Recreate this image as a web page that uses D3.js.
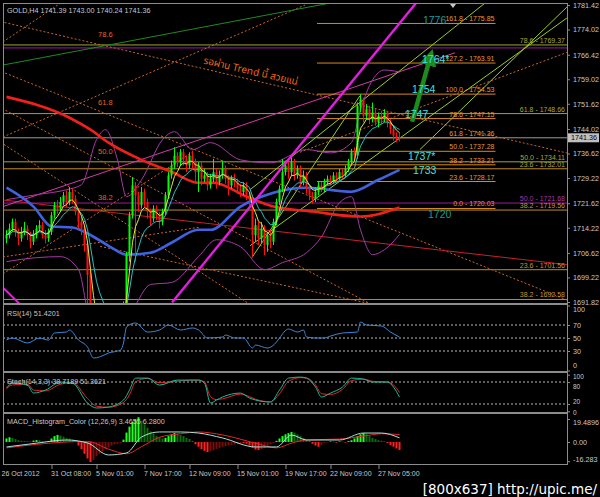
<!DOCTYPE html>
<html><head><meta charset="utf-8">
<script src="https://cdn.jsdelivr.net/npm/d3@7"></script>
<style>
html,body{margin:0;padding:0;background:#000;}
svg{display:block;}
text{font-family:"Liberation Sans",Arial,sans-serif;}
</style></head><body>
<svg id="c" width="600" height="497"></svg>
<script>
// ---------------- DATA ----------------
const symbolHeader = "GOLD,H4  1741.39 1743.00 1740.24 1741.36";
const priceTicks = [1781.42,1774.02,1766.42,1759.02,1751.62,1744.02,1736.62,1729.22,1721.62,1714.22,1706.62,1699.22,1691.82];
const lastPrice = 1741.36;
const timeLabels = ["26 Oct 2012","31 Oct 08:00","5 Nov 01:00","7 Nov 17:00","12 Nov 09:00","15 Nov 01:00","19 Nov 17:00","22 Nov 09:00","27 Nov 05:00"];
const timeBars = [-1.5,15,30,46,61,77,93,108,124];

const firstOpen = 1711;
const closes = [1712,1714,1716,1713,1711,1713,1714,1712,1710,1712,
 1714,1715,1712,1711,1713,1718,1721,1720,1722,1724,
 1722,1725,1723,1719,1716,1714,1709,1700,1685,1678,
 1676,1680,1682,1679,1681,1684,1683,1686,1685,1690,
 1706,1718,1727,1724,1721,1725,1722,1719,1717,1720,
 1718,1716,1719,1724,1730,1733,1736,1734,1737,1735,
 1733,1736,1734,1731,1733,1729,1730,1727,1729,1731,
 1728,1730,1732,1729,1727,1729,1728,1726,1725,1727,
 1724,1723,1712,1715,1711,1714,1709,1712,1710,1716,
 1722,1726,1731,1733,1731,1734,1730,1732,1728,1730,
 1726,1724,1723,1725,1727,1726,1728,1729,1728,1730,
 1729,1731,1730,1732,1734,1737,1736,1751,1753,1748,
 1750,1747,1749,1746,1748,1747,1749,1746,1744,1742,
 1741.39,1741.36];
const highs = [1713.5,1715.5,1717,1717,1714,1714.5,1716,1715,1713,1713.5,
 1715,1716.5,1716,1713.5,1714,1719,1722,1722.5,1723.5,1725,
 1725.5,1726.5,1726,1724,1720,1717.5,1715,1710,1701,1687,
 1680,1682,1684,1683,1683,1686,1686,1688,1687,1692,
 1707,1719,1729.5,1728,1725,1726.5,1726,1723,1720,1721,
 1721,1719,1720,1725,1731,1734.5,1738.5,1737,1738,1738,
 1736,1737,1737.5,1735,1734,1734,1732,1731,1730.5,1735,
 1732,1731.5,1734.5,1733,1730,1730,1730.5,1729,1727.5,1728,
 1728,1725,1724,1717,1716,1716,1715,1713,1713.5,1717,
 1723,1727,1735,1734.5,1735,1735.5,1735,1733,1733,1731.5,
 1731,1727,1725,1726.5,1728,1728,1729,1730,1730,1731,
 1731,1732,1732,1733,1735,1738,1738.5,1752,1754.5,1753.5,
 1751.5,1751,1752,1750,1749,1749.5,1750,1749.5,1747,1745,
 1743,1743];
const lows = [1709.5,1711,1713,1711.5,1709,1710,1712,1710.5,1708,1709,
 1711,1713,1711,1709.5,1710,1712,1717,1718.5,1719,1721,
 1720.5,1721,1721.5,1718,1714,1712,1707,1690,1680,1675,
 1674,1675,1679,1677,1678,1680,1681,1682,1683,1684,
 1688,1704,1717,1704,1719,1720,1720.5,1717,1715,1716,
 1716.5,1714,1715,1718,1723,1729,1732,1732.5,1733,1733,
 1731,1732,1732,1728,1725,1727,1728,1725.5,1726,1728,
 1726,1727,1729,1727.5,1724,1726,1726.5,1724.5,1723.5,1724,
 1722.5,1721,1705.5,1710,1709,1709.5,1706,1707,1708,1709,
 1715,1721,1725,1730,1729,1730,1728.5,1729,1726.5,1727,
 1724.5,1722.5,1721.5,1722,1724,1725,1725,1727,1727,1727.5,
 1728,1728.5,1729,1729.5,1731,1733,1734.5,1735,1749,1746,
 1747,1745.5,1746,1745,1744.5,1745.5,1746,1744.5,1742.5,1740.5,
 1740,1740.24];

// moving averages (bar index, price)
const blueMABars = [0,9,15,22,29,35,40,48,55,64,68,78,89,100,115,124,131];
const blueMAVals = [1726.3,1720.6,1714.6,1714.3,1711.5,1708.2,1706.1,1706.7,1709.7,1713.6,1713.6,1720.6,1724.8,1726.3,1725.1,1728.7,1731.7];
const redMABars = [0,21,28,34,45,55,64,69,80,89,102,118,131];
const redMAVals = [1753.7,1747.4,1743.8,1739.9,1734.7,1731.1,1727.8,1727.8,1723.6,1720.6,1719.1,1717.6,1720.3];
const bbUpBars = [0,10,20,25,30,33,37,40,45,52,56,62,68,78,88,100,108,115,118,122,126,131];
const bbUpVals = [1722.7,1724.2,1725.7,1727.2,1740.8,1743.8,1734.7,1723.6,1728.7,1740.8,1743.2,1737.8,1739.9,1734.7,1733.8,1737.8,1736.8,1739.9,1749.8,1758.8,1761.8,1761.2];
const bbLoBars = [0,10,18,24,28,36,42,48,55,64,70,78,86,92,100,105,111,115,118,122,126,131];
const bbLoVals = [1704,1705.2,1705.5,1701.6,1686.5,1683.5,1689.6,1697.1,1697.7,1705.5,1710.6,1708.5,1701.6,1703.7,1706.7,1711.5,1721.8,1723.6,1713.6,1706.1,1707.6,1712.2];

// Fibonacci set A (right block)
const fibALabels = ["161.8","127.2","100.0","78.6","61.8","50.0","38.2","23.6","0.0"];
const fibAPrices = [1775.85,1763.91,1754.53,1747.15,1741.36,1737.28,1733.21,1728.17,1720.03];
const fibAFrom = 103.5, fibATo = 163;
// Fibonacci set B (full width)
const fibBLabels = ["78.6","61.8","50.0","23.6","50.0","38.2","23.6","38.2"];
const fibBPrices = [1769.37,1748.66,1734.11,1732.01,1721.68,1719.56,1701.56,1692.58];
const purpleLevel = 1768.47;
// fan labels on the left
const fanLabels = ["78.6","61.8","50.0","38.2"];
const fanLabelPrices = [1771.8,1751.3,1736.5,1722.6];
const fanLabelBar = 30.5;

// trend lines: [[bar, price],[bar, price]]
const fanOrigin = [-98.07,1796.6];
const fanEnds = [[186.8,1736.77],[186.8,1692.42],[186.8,1659.8],[186.8,1628.9]];
const dashedLines = [
  [[-1.2,1770.26],[19.5,1782.9]],
  [[-1.2,1741.6],[99.5,1781.4]],
  [[-1.2,1705.4],[64.5,1714.4]],
  [[-1.2,1700.3],[62,1737]],
  [[31.2,1708.6],[124.5,1690.7]],
  [[97.8,1737],[186.8,1767.1]]
];
const redThin = [[-2.2,1722.7],[186.8,1703.1]];
const greenThin = [[-1.2,1763.3],[107.8,1782]];
const pinkThin = [[-1.2,1720.6],[149.5,1767]];
const magentaThick = [[55.2,1691.7],[136.5,1782]];
const magentaShort = [[-1.2,1696.2],[5.2,1690.5]];
const channelLines = [
  [[81.8,1705.2],[117.8,1754]],
  [[81.2,1725.7],[159.5,1782]],
  [[81.2,1708.8],[186.8,1777.5]],
  [[137.8,1737.8],[186.8,1780.8]]
];
// annotations
const noteTexts = ["1776","1764*","1754","1747","1737*","1733","1720"];
const noteBars = [138.8,138.5,135.2,132.8,133.8,135.5,140.5];
const notePrices = [1775.6,1763.9,1754.9,1747.4,1734.7,1730.5,1717.3];
const thaiNote = "รอผ่าน Trend นี้ สวยแน่";
const thaiAnchor = [65.5,1763.8];
const arrowFrom = [135.2,1746.2], arrowTo = [140.8,1764.2];

// RSI(14)
const rsiLabel = "RSI(14) 51.4201";
const rsiBars = [0,2,7,11,14,16,20,21,24,27,29,31,34,38,39,40,43,47,51,54,58,62,64,67,72,73,76,79,82,83,87,90,91,94,97,99,100,103,106,108,112,117,118,120,125,128,131];
const rsiVals = [46.9,50,42.3,50,46.9,57.7,59.2,62.3,46.9,36.2,19.2,20.8,26.9,31.5,42.3,66.9,73.1,59.2,62.3,70,62.3,65.4,62.3,50,51.5,54.6,50,50,34.6,39.2,34.6,43.8,50,63.8,59.2,62.3,51.5,50,50,53,57.7,59.2,74.6,70,68.5,59.2,51.42];
const rsiTicks = [100,70,50,30,0];
// Stochastic(14,3,3)
const stochLabel = "Stoch(14,3,3) 38.7189 51.3621";
const stochBars = [0,2,7,9,13,18,22,27,30,34,39,41,43,47,51,57,61,64,66,68,70,72,78,81,83,88,91,94,98,100,103,105,108,112,115,119,122,127,129,131];
const stochK = [63.5,77,71.7,49.9,58,79.8,77,22.6,9,11.7,30.8,58,90.7,90.7,71.7,85.3,85.3,85.3,77,22.6,30.8,39,49.9,36.2,30.8,25.3,58,90.7,93.5,90.7,66.2,39,49.9,66.2,90.7,88,79.8,79.8,66.2,38.72];
const stochD = [62,72,74,58,56,74,78,35,14,11,24,45,80,90,78,82,85,85,80,40,32,34,47,40,33,26,48,82,92,91,72,48,46,60,84,88,82,80,72,51.36];
const stochTicks = [100,80,20,0];
// MACD
const macdLabel = "MACD_Histogram_Color (12,26,9)  3.4655 6.2800";
const macdHist = [3,4,3.5,2.5,1.5,1,0.8,0.6,0.5,1.2,
 1.6,1.5,0.8,0.5,0.6,3,5,6,5.5,4.5,
 3.5,3,2,0.5,-3,-6,-10,-14,-17,-15,
 -12,-10,-8,-6,-4.5,-3,-2,-1.5,-1,2,
 8,13,17,19,21,18,15,12,9,7,
 5,4,3,3.5,5,6.5,7.6,7,6,5,
 3.5,2.5,1,-2,-4,-6,-7.5,-8.5,-8,-7,
 -6,-5,-4,-3.5,-3,-2.5,-2,-1.5,-1,-1,
 -1.5,-3,-5,-6.5,-6.8,-6,-5,-3.5,-2,-1,
 1,3,5,6.5,7.5,8.5,8,6.5,5,3.5,
 2,1,-1.5,-3,-4,-2.5,-1,-0.5,0.5,0.3,
 -0.3,0.5,0.3,-0.4,0.8,1.5,3,5,6.5,7.6,
 7,5,3.5,2.5,1.5,1,0.5,-1,-2.5,-4,
 -5.5,-6.8];
const macdBars = [0,10,20,27,34,40,45,51,58,64,72,83,90,95,100,111,119,125,131];
const macdMain = [-4.2,-1,1.7,-0.8,-11,-9.3,4.2,8.5,8.5,7.6,3.4,-4.2,-4.2,5.9,1.7,1.7,7.6,7.6,3.47];
const macdSignal = [-5,-2,0,0.5,-6,-10,-4,4,7,8.5,6,-1,-5,-1,1.7,2.5,5,7,6.28];
const macdTicks = [19.4896,0,-16.283];
const watermark = "[800x637] http://upic.me/";

// ---------------- CHART ----------------
const svg = d3.select("#c");
svg.append("rect").attr("width",600).attr("height",497).attr("fill","#000");
const L = 3, R = 567;
const x = d3.scaleLinear().domain([0,131]).range([6.5,399.5]);
const yP = d3.scaleLinear().domain([1691.82,1781.42]).range([302,5]);
const yR = d3.scaleLinear().domain([0,100]).range([370.5,305.5]);
const yS = d3.scaleLinear().domain([0,100]).range([411.3,374.7]);
const yM = d3.scaleLinear().domain([-16.283,19.4896]).range([461.2,419]);

const defs = svg.append("defs");
function clip(id,y0,h){defs.append("clipPath").attr("id",id).append("rect").attr("x",L+1).attr("y",y0).attr("width",R-L-1).attr("height",h);}
clip("cm",4,299); clip("cr",305,66); clip("cs",373,39); clip("cmd",414,51);
defs.append("marker").attr("id","ah").attr("viewBox","0 0 10 10").attr("refX",2).attr("refY",5)
  .attr("markerWidth",3.8).attr("markerHeight",3.8).attr("orient","auto")
  .append("path").attr("d","M0,0L10,5L0,10Z").attr("fill","#1c8c1c");

const gm = svg.append("g").attr("clip-path","url(#cm)");
const segP = (g,pts,color,w,dash)=>g.append("line")
  .attr("x1",x(pts[0][0])).attr("y1",yP(pts[0][1])).attr("x2",x(pts[1][0])).attr("y2",yP(pts[1][1]))
  .attr("stroke",color).attr("stroke-width",w).attr("stroke-dasharray",dash||null);

// full-width fib levels (set B)
const fibBColors = ["#a3a032","#a3a032","#a3a032","#c08a22","#9a1c9a","#c08a22","#b8901e","#b8901e"];
gm.append("line").attr("x1",L).attr("x2",R).attr("y1",yP(purpleLevel)).attr("y2",yP(purpleLevel)).attr("stroke","#9a1c9a").attr("stroke-width",1);
fibBPrices.forEach((p,i)=>{
  gm.append("line").attr("x1",L).attr("x2",R).attr("y1",yP(p)).attr("y2",yP(p)).attr("stroke",fibBColors[i]).attr("stroke-width",1);
});
// bid line
gm.append("line").attr("x1",L).attr("x2",R).attr("y1",yP(lastPrice)).attr("y2",yP(lastPrice)).attr("stroke","#9a9a9a").attr("stroke-width",1);

// dashed fan lines
fanEnds.forEach(e=>segP(gm,[fanOrigin,e],"#c8652c",1,"2,2"));
dashedLines.forEach(d=>segP(gm,d,"#c8652c",1,"2,2"));

// thin trend lines
segP(gm,redThin,"#c8202a",1);
segP(gm,greenThin,"#1f8a1f",1);
segP(gm,pinkThin,"#d63aa8",1);
channelLines.forEach(c=>segP(gm,c,"#9ccc28",1));
segP(gm,magentaShort,"#e020e0",2);

// fib set A
fibAPrices.forEach((p,i)=>{
  gm.append("line").attr("x1",x(fibAFrom)).attr("x2",x(fibATo)).attr("y1",yP(p)).attr("y2",yP(p)).attr("stroke","#d88a1e").attr("stroke-width",1);
});

// bollinger bands
const lineFn = (yS_)=>d3.line().x(d=>x(d[0])).y(d=>yS_(d[1])).curve(d3.curveMonotoneX);
const zip = (a,b)=>a.map((v,i)=>[v,b[i]]);
gm.append("path").attr("d",lineFn(yP)(zip(bbUpBars,bbUpVals))).attr("fill","none").attr("stroke","#a53aa5").attr("stroke-width",1);
gm.append("path").attr("d",lineFn(yP)(zip(bbLoBars,bbLoVals))).attr("fill","none").attr("stroke","#a53aa5").attr("stroke-width",1);

// long MAs
gm.append("path").attr("d",lineFn(yP)(zip(redMABars,redMAVals))).attr("fill","none").attr("stroke","#f2201c").attr("stroke-width",2.6);
gm.append("path").attr("d",lineFn(yP)(zip(blueMABars,blueMAVals))).attr("fill","none").attr("stroke","#3f63e0").attr("stroke-width",2.6);

// candles
const opens = closes.map((c,i)=> i===0 ? firstOpen : closes[i-1]);
const cg = gm.append("g");
closes.forEach((c,i)=>{
  const up = c>=opens[i];
  const col = up ? "#00ff00" : "#ff1010";
  cg.append("line").attr("x1",x(i)).attr("x2",x(i)).attr("y1",yP(highs[i])).attr("y2",yP(lows[i])).attr("stroke",col).attr("stroke-width",1);
  const y1 = yP(Math.max(c,opens[i])), y2 = yP(Math.min(c,opens[i]));
  cg.append("rect").attr("x",x(i)-1).attr("y",y1).attr("width",2).attr("height",Math.max(1,y2-y1)).attr("fill",col);
});

// short EMAs computed from closes
function ema(a,n){const k=2/(n+1);let e=a[0];return a.map(v=>(e=e+k*(v-e)));}
const e5 = ema(closes,5), e10 = ema(closes,10);
const simple = d3.line().x((d,i)=>x(i)).y(d=>yP(d));
gm.append("path").attr("d",simple(e10)).attr("fill","none").attr("stroke","#27c2c8").attr("stroke-width",1);
gm.append("path").attr("d",simple(e5)).attr("fill","none").attr("stroke","#e6e63a").attr("stroke-width",1);

// magenta thick trend
segP(gm,magentaThick,"#e21fe0",2.4);

// green arrow (below the labels)
gm.append("line").attr("x1",x(arrowFrom[0])).attr("y1",yP(arrowFrom[1])).attr("x2",x(arrowTo[0])).attr("y2",yP(arrowTo[1]))
  .attr("stroke","#1c8c1c").attr("stroke-width",4.5).attr("marker-end","url(#ah)");

// labels fib A
fibAPrices.forEach((p,i)=>{
  gm.append("text").attr("x",x(fibATo)-1).attr("y",yP(p)-2).attr("text-anchor","end")
    .attr("font-size",7).attr("fill","#e39a35").text(fibALabels[i]+" - "+p.toFixed(2));
});
// labels fib B
fibBPrices.forEach((p,i)=>{
  gm.append("text").attr("x",R-2).attr("y",yP(p)-2).attr("text-anchor","end")
    .attr("font-size",7).attr("fill",i===4?"#a53aa5":(i<4?"#a8a83a":"#c7972e")).text(fibBLabels[i]+" - "+p.toFixed(2));
});
// fan labels
fanLabelPrices.forEach((p,i)=>{
  gm.append("text").attr("x",x(fanLabelBar)).attr("y",yP(p)).attr("font-size",7.5).attr("fill","#e4622a").text(fanLabels[i]);
});

// annotations
noteTexts.forEach((t,i)=>{
  const dark = (t==="1776"||t==="1720");
  gm.append("text").attr("x",x(noteBars[i])).attr("y",yP(notePrices[i])).attr("font-size",10.5)
    .attr("fill",dark?"#1d9a9a":"#3fe0e0").text(t);
});
const ang = Math.atan2(yP(1736.77)-yP(1776.29), x(186.8)-x(-1.2))*180/Math.PI;
gm.append("text").attr("transform",`translate(${x(thaiAnchor[0])},${yP(thaiAnchor[1])}) rotate(${ang})`)
  .attr("font-size",10).attr("fill","#f0641c")
  .style("font-family","'Noto Sans Thai','Noto Sans','DejaVu Sans',sans-serif").text(thaiNote);

// header
svg.append("text").attr("x",7).attr("y",13).attr("font-size",7.2).attr("fill","#c8c8c8").text(symbolHeader);
// shift marker
svg.append("path").attr("d","M450,4L456,4L453,8Z").attr("fill","#c8c8c8");

// ---------- RSI ----------
const gr = svg.append("g").attr("clip-path","url(#cr)");
[70,50,30].forEach(v=>gr.append("line").attr("x1",L).attr("x2",R).attr("y1",yR(v)).attr("y2",yR(v)).attr("stroke","#b8b8b8").attr("stroke-dasharray","2,2"));
gr.append("path").attr("d",lineFn(yR)(zip(rsiBars,rsiVals))).attr("fill","none").attr("stroke","#3c88d6").attr("stroke-width",1);
svg.append("text").attr("x",7).attr("y",316).attr("font-size",7.2).attr("fill","#c8c8c8").text(rsiLabel);

// ---------- Stoch ----------
const gs = svg.append("g").attr("clip-path","url(#cs)");
[80,20].forEach(v=>gs.append("line").attr("x1",L).attr("x2",R).attr("y1",yS(v)).attr("y2",yS(v)).attr("stroke","#b8b8b8").attr("stroke-dasharray","2,2"));
gs.append("path").attr("d",lineFn(yS)(zip(stochBars,stochD))).attr("fill","none").attr("stroke","#e0282a").attr("stroke-width",1);
gs.append("path").attr("d",lineFn(yS)(zip(stochBars,stochK))).attr("fill","none").attr("stroke","#20b89a").attr("stroke-width",1);
svg.append("text").attr("x",7).attr("y",384).attr("font-size",7.2).attr("fill","#c8c8c8").text(stochLabel);

// ---------- MACD ----------
const gd = svg.append("g").attr("clip-path","url(#cmd)");
macdHist.forEach((v,i)=>{
  const prev = i>0 ? macdHist[i-1] : v;
  let col;
  if(v>=0) col = v>=prev ? "#22ff22" : "#0d6a0d"; else col = v<=prev ? "#ff2020" : "#7a0c0c";
  const y0 = yM(0), y1 = yM(v);
  gd.append("rect").attr("x",x(i)-1).attr("y",Math.min(y0,y1)).attr("width",2).attr("height",Math.max(0.6,Math.abs(y1-y0))).attr("fill",col);
});
gd.append("path").attr("d",lineFn(yM)(zip(macdBars,macdSignal))).attr("fill","none").attr("stroke","#e0282a").attr("stroke-width",1);
gd.append("path").attr("d",lineFn(yM)(zip(macdBars,macdMain))).attr("fill","none").attr("stroke","#a8e0d8").attr("stroke-width",1);
svg.append("text").attr("x",7).attr("y",424).attr("font-size",7.2).attr("fill","#c8c8c8").text(macdLabel);

// ---------- Frames ----------
const fr = svg.append("g").attr("fill","none").attr("stroke","#8c8c8c");
fr.append("rect").attr("x",L+0.5).attr("y",3.5).attr("width",R-L).attr("height",461);
[304,372,413].forEach(y=>fr.append("line").attr("x1",L).attr("x2",R).attr("y1",y).attr("y2",y).attr("stroke-width",2));

// ---------- Axes ----------
function styleAxis(g){
  g.select(".domain").remove();
  g.selectAll(".tick line").attr("stroke","#8c8c8c");
  g.selectAll("text").attr("fill","#c8c8c8").attr("font-size",7.2).style("font-family","'Liberation Sans',Arial,sans-serif");
}
const axP = svg.append("g").attr("transform",`translate(${R},0)`).call(d3.axisRight(yP).tickValues(priceTicks).tickFormat(d3.format(".2f")).tickSize(3).tickPadding(3));
styleAxis(axP);
// last price box
svg.append("rect").attr("x",R+1).attr("y",yP(lastPrice)-4.5).attr("width",31).attr("height",9).attr("fill","#c0c0c0");
svg.append("text").attr("x",R+4).attr("y",yP(lastPrice)+2.6).attr("font-size",7.2).attr("fill","#000").text(lastPrice.toFixed(2));

const axR = svg.append("g").attr("transform",`translate(${R},0)`).call(d3.axisRight(yR).tickValues(rsiTicks).tickFormat(d3.format("d")).tickSize(3).tickPadding(3));
styleAxis(axR);
axR.selectAll(".tick text").attr("dy",(d)=> d===100?"0.9em":(d===0?"-0.45em":"0.32em"));
const axS = svg.append("g").attr("transform",`translate(${R},0)`).call(d3.axisRight(yS).tickValues(stochTicks).tickFormat(d3.format("d")).tickSize(3).tickPadding(3));
styleAxis(axS);
axS.selectAll(".tick text").attr("font-size",6.5).attr("dy",(d)=> d===100?"0.6em":(d===80?"1.05em":(d===20?"-0.1em":"0.5em")));
const axM = svg.append("g").attr("transform",`translate(${R},0)`).call(d3.axisRight(yM).tickValues(macdTicks).tickFormat(d=> d===0?"0.00":String(d)).tickSize(3).tickPadding(3));
styleAxis(axM);
axM.selectAll(".tick text").attr("dy",(d)=> d>1?"0.75em":(d<-1?"0em":"0.32em"));

const axT = svg.append("g").attr("transform","translate(0,465)").call(d3.axisBottom(x).tickValues(timeBars).tickFormat((d,i)=>timeLabels[i]).tickSize(4).tickPadding(2));
styleAxis(axT);
axT.selectAll(".tick text").attr("text-anchor","start").attr("dx",-1).attr("font-size",7);
axT.select(".tick").select("line").remove();

// watermark
svg.append("text").attr("x",597).attr("y",494).attr("text-anchor","end").attr("font-size",13.5).attr("fill","#ffffff")
  .style("font-family","'DejaVu Sans',sans-serif").text(watermark);
</script>
</body></html>
